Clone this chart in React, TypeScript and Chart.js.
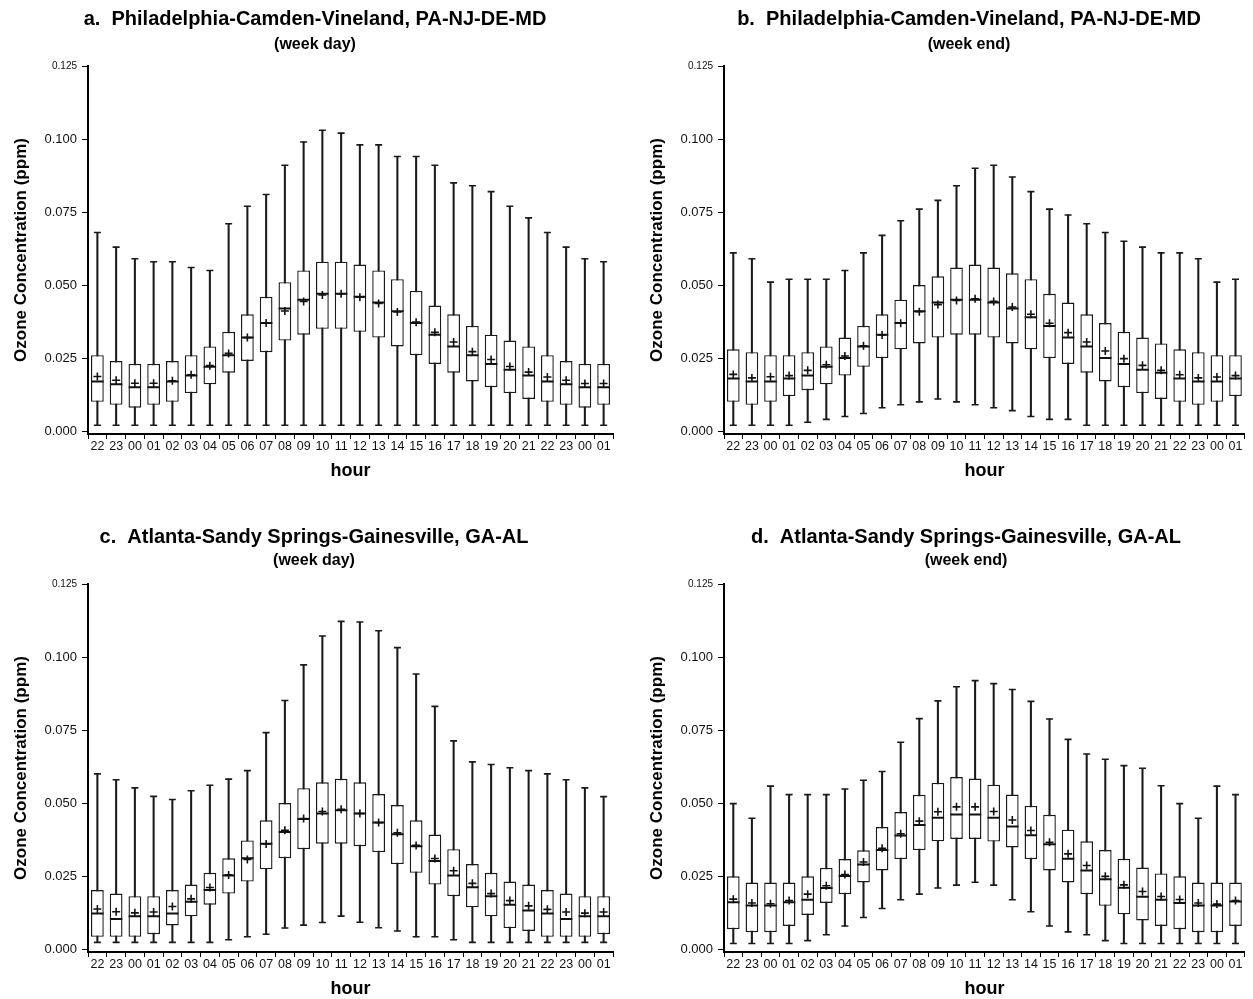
import React, { useEffect, useRef } from 'react';
import { Chart, registerables } from 'chart.js';

Chart.register(...registerables);

const FONT = "'Liberation Sans', Arial, Helvetica, sans-serif";

const hours = ['22', '23', '00', '01', '02', '03', '04', '05', '06', '07', '08', '09', '10', '11', '12', '13', '14', '15', '16', '17', '18', '19', '20', '21', '22', '23', '00', '01'];
const yTicks = [0, 0.025, 0.05, 0.075, 0.1, 0.125];

// Panel a: Philadelphia, week day
const aMax = [0.068, 0.063, 0.059, 0.058, 0.058, 0.056, 0.055, 0.071, 0.077, 0.081, 0.091, 0.099, 0.103, 0.102, 0.098, 0.098, 0.094, 0.094, 0.091, 0.085, 0.084, 0.082, 0.077, 0.073, 0.068, 0.063, 0.059, 0.058];
const aQ3 = [0.026, 0.024, 0.023, 0.023, 0.024, 0.026, 0.029, 0.034, 0.040, 0.046, 0.051, 0.055, 0.058, 0.058, 0.057, 0.055, 0.052, 0.048, 0.043, 0.040, 0.036, 0.033, 0.031, 0.029, 0.026, 0.024, 0.023, 0.023];
const aMed = [0.017, 0.016, 0.015, 0.015, 0.017, 0.019, 0.022, 0.026, 0.032, 0.037, 0.042, 0.045, 0.047, 0.047, 0.046, 0.044, 0.041, 0.037, 0.033, 0.029, 0.026, 0.023, 0.021, 0.019, 0.017, 0.016, 0.015, 0.015];
const aMean = [0.0187, 0.0174, 0.0164, 0.0164, 0.0172, 0.0193, 0.0224, 0.0266, 0.032, 0.037, 0.0411, 0.0444, 0.0466, 0.047, 0.0458, 0.0437, 0.0408, 0.0373, 0.0338, 0.0305, 0.0272, 0.0245, 0.0221, 0.0202, 0.0185, 0.0174, 0.0163, 0.0163];
const aQ1 = [0.010, 0.009, 0.008, 0.009, 0.010, 0.013, 0.016, 0.020, 0.024, 0.027, 0.031, 0.033, 0.035, 0.035, 0.034, 0.032, 0.029, 0.026, 0.023, 0.020, 0.017, 0.015, 0.013, 0.011, 0.010, 0.009, 0.008, 0.009];
const aMin = [0.002, 0.002, 0.002, 0.002, 0.002, 0.002, 0.002, 0.002, 0.002, 0.002, 0.002, 0.002, 0.002, 0.002, 0.002, 0.002, 0.002, 0.002, 0.002, 0.002, 0.002, 0.002, 0.002, 0.002, 0.002, 0.002, 0.002, 0.002];

// Panel b: Philadelphia, week end
const bMax = [0.061, 0.059, 0.051, 0.052, 0.052, 0.052, 0.055, 0.061, 0.067, 0.072, 0.076, 0.079, 0.084, 0.090, 0.091, 0.087, 0.082, 0.076, 0.074, 0.071, 0.068, 0.065, 0.063, 0.061, 0.061, 0.059, 0.051, 0.052];
const bQ3 = [0.028, 0.027, 0.026, 0.026, 0.027, 0.029, 0.032, 0.036, 0.040, 0.045, 0.050, 0.053, 0.056, 0.057, 0.056, 0.054, 0.052, 0.047, 0.044, 0.040, 0.037, 0.034, 0.032, 0.030, 0.028, 0.027, 0.026, 0.026];
const bMed = [0.018, 0.017, 0.017, 0.018, 0.019, 0.022, 0.025, 0.029, 0.033, 0.037, 0.041, 0.044, 0.045, 0.045, 0.044, 0.042, 0.039, 0.036, 0.032, 0.029, 0.025, 0.023, 0.021, 0.020, 0.018, 0.017, 0.017, 0.018];
const bMean = [0.0194, 0.0182, 0.0186, 0.019, 0.0208, 0.0227, 0.0257, 0.0292, 0.0329, 0.0369, 0.0409, 0.0433, 0.0447, 0.0453, 0.0444, 0.0425, 0.040, 0.0369, 0.0337, 0.0305, 0.0274, 0.0248, 0.0225, 0.0208, 0.0193, 0.0182, 0.0185, 0.019];
const bQ1 = [0.010, 0.009, 0.010, 0.012, 0.014, 0.016, 0.019, 0.022, 0.025, 0.028, 0.030, 0.032, 0.033, 0.033, 0.032, 0.030, 0.028, 0.025, 0.023, 0.020, 0.017, 0.015, 0.013, 0.011, 0.010, 0.009, 0.010, 0.012];
const bMin = [0.002, 0.002, 0.002, 0.002, 0.003, 0.004, 0.005, 0.006, 0.008, 0.009, 0.010, 0.011, 0.010, 0.009, 0.008, 0.007, 0.005, 0.004, 0.004, 0.002, 0.002, 0.002, 0.002, 0.002, 0.002, 0.002, 0.002, 0.002];

// Panel c: Atlanta, week day
const cMax = [0.060, 0.058, 0.0552, 0.0523, 0.0512, 0.0542, 0.0561, 0.0582, 0.0611, 0.0741, 0.0851, 0.0973, 0.1072, 0.1122, 0.112, 0.109, 0.1032, 0.0942, 0.0831, 0.0713, 0.0641, 0.0632, 0.0621, 0.0611, 0.060, 0.058, 0.0552, 0.0522];
const cQ3 = [0.0202, 0.019, 0.0181, 0.0181, 0.0202, 0.0221, 0.0261, 0.0311, 0.0372, 0.0441, 0.050, 0.0551, 0.0571, 0.0583, 0.0571, 0.0531, 0.0493, 0.0441, 0.0392, 0.0342, 0.0291, 0.0261, 0.0231, 0.0221, 0.0202, 0.019, 0.0181, 0.0181];
const cMed = [0.0122, 0.0103, 0.0112, 0.0112, 0.0122, 0.0162, 0.0202, 0.0252, 0.0311, 0.0361, 0.0401, 0.0445, 0.0464, 0.0475, 0.0464, 0.0433, 0.0393, 0.0352, 0.0302, 0.0252, 0.0212, 0.0181, 0.0152, 0.0132, 0.0122, 0.0103, 0.0112, 0.0112];
const cMean = [0.0137, 0.0128, 0.0124, 0.0127, 0.0146, 0.0172, 0.0211, 0.0254, 0.0307, 0.036, 0.0407, 0.0447, 0.0471, 0.0479, 0.0464, 0.0433, 0.0398, 0.0355, 0.031, 0.0268, 0.0225, 0.019, 0.0166, 0.0148, 0.0136, 0.0127, 0.0123, 0.0127];
const cQ1 = [0.0042, 0.0042, 0.0042, 0.0051, 0.0081, 0.0112, 0.0152, 0.019, 0.0231, 0.0273, 0.0311, 0.0342, 0.0361, 0.0361, 0.0352, 0.0332, 0.0291, 0.0261, 0.0221, 0.0181, 0.0143, 0.0112, 0.0072, 0.0062, 0.0042, 0.0042, 0.0042, 0.0051];
const cMin = [0.0023, 0.0023, 0.0023, 0.0023, 0.0023, 0.0023, 0.0023, 0.0032, 0.0042, 0.0051, 0.0072, 0.0082, 0.0091, 0.0113, 0.0092, 0.0073, 0.0062, 0.0042, 0.0042, 0.0032, 0.0023, 0.0023, 0.0023, 0.0023, 0.0023, 0.0023, 0.0023, 0.0023];

// Panel d: Atlanta, week end
const dMax = [0.0498, 0.0448, 0.0558, 0.0529, 0.0529, 0.0529, 0.0548, 0.0578, 0.0608, 0.0708, 0.0789, 0.085, 0.0898, 0.0919, 0.0909, 0.0889, 0.0848, 0.0788, 0.0718, 0.0668, 0.065, 0.0628, 0.0619, 0.0559, 0.0498, 0.0448, 0.0558, 0.0529];
const dQ3 = [0.0249, 0.0228, 0.0228, 0.0228, 0.0249, 0.0278, 0.0308, 0.0338, 0.0418, 0.0469, 0.0528, 0.0569, 0.0589, 0.0584, 0.0563, 0.0529, 0.049, 0.046, 0.0409, 0.0369, 0.0339, 0.0309, 0.0279, 0.0259, 0.0249, 0.0228, 0.0228, 0.0228];
const dMed = [0.016, 0.0149, 0.0149, 0.016, 0.0169, 0.0209, 0.025, 0.029, 0.0339, 0.0389, 0.0425, 0.045, 0.0461, 0.0461, 0.045, 0.042, 0.039, 0.0359, 0.0309, 0.0269, 0.0239, 0.021, 0.0179, 0.0169, 0.0158, 0.0149, 0.0149, 0.0163];
const dMean = [0.0171, 0.0158, 0.0155, 0.0166, 0.0188, 0.0217, 0.0255, 0.0298, 0.0345, 0.0395, 0.0438, 0.047, 0.0487, 0.0487, 0.0471, 0.0442, 0.0406, 0.0366, 0.0326, 0.0286, 0.0249, 0.022, 0.0197, 0.018, 0.017, 0.0158, 0.0154, 0.0166];
const dQ1 = [0.0068, 0.0058, 0.0058, 0.0079, 0.0117, 0.0158, 0.0188, 0.0228, 0.0269, 0.0308, 0.0339, 0.0369, 0.0377, 0.0377, 0.0368, 0.0348, 0.0308, 0.0269, 0.0228, 0.0188, 0.0148, 0.0119, 0.0098, 0.0079, 0.0068, 0.0058, 0.0058, 0.0079];
const dMin = [0.0019, 0.0019, 0.0019, 0.0019, 0.0029, 0.0049, 0.0079, 0.0108, 0.0139, 0.0169, 0.0188, 0.0209, 0.0219, 0.0229, 0.0219, 0.0169, 0.0128, 0.0079, 0.0059, 0.0049, 0.0029, 0.0019, 0.0019, 0.0019, 0.0019, 0.0019, 0.0019, 0.0019];

const titles = [
  'a.  Philadelphia-Camden-Vineland, PA-NJ-DE-MD',
  'b.  Philadelphia-Camden-Vineland, PA-NJ-DE-MD',
  'c.  Atlanta-Sandy Springs-Gainesville, GA-AL',
  'd.  Atlanta-Sandy Springs-Gainesville, GA-AL',
];
const subtitles = ['(week day)', '(week end)', '(week day)', '(week end)'];

type PanelDef = {
  title: string;
  sub: string;
  max: number[];
  q3: number[];
  med: number[];
  mean: number[];
  q1: number[];
  min: number[];
  left: number;
  top: number;
  width: number;
  padRight: number;
  titleX: number;
  titleY: number;
  subY: number;
};

const H = 484;

const panels: PanelDef[] = [
  { title: titles[0], sub: subtitles[0], max: aMax, q3: aQ3, med: aMed, mean: aMean, q1: aQ1, min: aMin, left: 0, top: 0, width: 626, padRight: 13, titleX: 315, titleY: 19, subY: 45 },
  { title: titles[1], sub: subtitles[1], max: bMax, q3: bQ3, med: bMed, mean: bMean, q1: bQ1, min: bMin, left: 636, top: 0, width: 617, padRight: 4, titleX: 333, titleY: 19, subY: 45 },
  { title: titles[2], sub: subtitles[2], max: cMax, q3: cQ3, med: cMed, mean: cMean, q1: cQ1, min: cMin, left: 0, top: 518, width: 626, padRight: 13, titleX: 314, titleY: 19, subY: 43 },
  { title: titles[3], sub: subtitles[3], max: dMax, q3: dQ3, med: dMed, mean: dMean, q1: dQ1, min: dMin, left: 636, top: 518, width: 617, padRight: 4, titleX: 330, titleY: 19, subY: 43 },
];

function BoxPanel({ p }: { p: PanelDef }) {
  const ref = useRef<HTMLCanvasElement | null>(null);

  useEffect(() => {
    if (!ref.current) return;
    const ink = '#1a1a1a';
    const titlePlugin = {
      id: 'panelTitle',
      afterDraw(chart: any) {
        const ctx = chart.ctx;
        ctx.save();
        ctx.fillStyle = '#000';
        ctx.textAlign = 'center';
        ctx.textBaseline = 'middle';
        ctx.font = `bold 20px ${FONT}`;
        ctx.fillText(p.title, p.titleX, p.titleY);
        ctx.font = `bold 16px ${FONT}`;
        ctx.fillText(p.sub, p.titleX, p.subY);
        ctx.restore();
      },
    };

    const chart = new Chart(ref.current, {
      type: 'bar',
      data: {
        labels: hours,
        datasets: [
          {
            type: 'bar',
            label: 'whisker',
            data: p.min.map((v, i) => [v, p.max[i]]),
            backgroundColor: ink,
            borderWidth: 0,
            barThickness: 1.4,
            grouped: false,
            order: 6,
          } as any,
          {
            type: 'bar',
            label: 'box',
            data: p.q1.map((v, i) => [v, p.q3[i]]),
            backgroundColor: '#ffffff',
            borderColor: ink,
            borderWidth: 1.4,
            borderSkipped: false,
            barPercentage: 0.68,
            categoryPercentage: 1,
            grouped: false,
            order: 5,
          } as any,
          {
            type: 'line',
            label: 'median',
            data: p.med,
            showLine: false,
            pointStyle: 'line',
            pointRadius: 6.2,
            pointBorderWidth: 2,
            pointBorderColor: '#111',
            pointBackgroundColor: '#111',
            order: 4,
          } as any,
          {
            type: 'line',
            label: 'mean',
            data: p.mean,
            showLine: false,
            pointStyle: 'cross',
            pointRadius: 4,
            pointBorderWidth: 1.6,
            pointBorderColor: '#111',
            order: 3,
          } as any,
          {
            type: 'line',
            label: 'upper cap',
            data: p.max,
            showLine: false,
            pointStyle: 'line',
            pointRadius: 3.5,
            pointBorderWidth: 1.6,
            pointBorderColor: ink,
            order: 2,
          } as any,
          {
            type: 'line',
            label: 'lower cap',
            data: p.min,
            showLine: false,
            pointStyle: 'line',
            pointRadius: 3.5,
            pointBorderWidth: 1.6,
            pointBorderColor: ink,
            order: 1,
          } as any,
        ],
      },
      options: {
        responsive: false,
        animation: false,
        events: [],
        layout: { padding: { top: 66, right: p.padRight, left: 0, bottom: 0 } },
        plugins: {
          legend: { display: false },
          tooltip: { enabled: false },
          title: { display: false },
        },
        scales: {
          x: {
            type: 'category',
            offset: true,
            grid: { display: true, drawOnChartArea: false, drawTicks: true, tickLength: 5, color: '#000', lineWidth: 1 },
            border: { display: true, color: '#000', width: 2 },
            ticks: { color: '#111', font: { family: FONT, size: 12.5 }, maxRotation: 0, autoSkip: false, padding: 0 },
            title: { display: true, text: 'hour', color: '#000', font: { family: FONT, size: 18, weight: 'bold' }, padding: { top: 0, bottom: 2 } },
            afterFit: (s: any) => { s.height = 50; },
          },
          y: {
            type: 'linear',
            min: -0.001,
            max: 0.125,
            afterBuildTicks: (s: any) => { s.ticks = yTicks.map((v) => ({ value: v })); },
            grid: { display: true, drawOnChartArea: false, drawTicks: true, tickLength: 6, color: '#000', lineWidth: 1 },
            border: { display: true, color: '#000', width: 2 },
            ticks: {
              color: '#111',
              padding: 5,
              font: (c: any) => ({ family: FONT, size: c.tick && c.tick.value === 0.125 ? 10 : 13 }),
              callback: (v: any) => Number(v).toFixed(3),
            },
            title: { display: true, text: 'Ozone Concentration (ppm)', color: '#000', font: { family: FONT, size: 17, weight: 'bold' }, padding: { top: 11, bottom: 0 } },
            afterFit: (s: any) => { s.width = 88; },
          },
        },
      } as any,
      plugins: [titlePlugin],
    });
    return () => chart.destroy();
  }, [p]);

  return (
    <canvas
      ref={ref}
      width={p.width}
      height={H}
      style={{ position: 'absolute', left: p.left, top: p.top, width: p.width, height: H, display: 'block' }}
    />
  );
}

export default function App() {
  return (
    <div style={{ position: 'absolute', left: 0, top: 0, width: 1253, height: 999, background: '#fff', overflow: 'hidden' }}>
      {panels.map((p, i) => (
        <BoxPanel key={i} p={p} />
      ))}
    </div>
  );
}
